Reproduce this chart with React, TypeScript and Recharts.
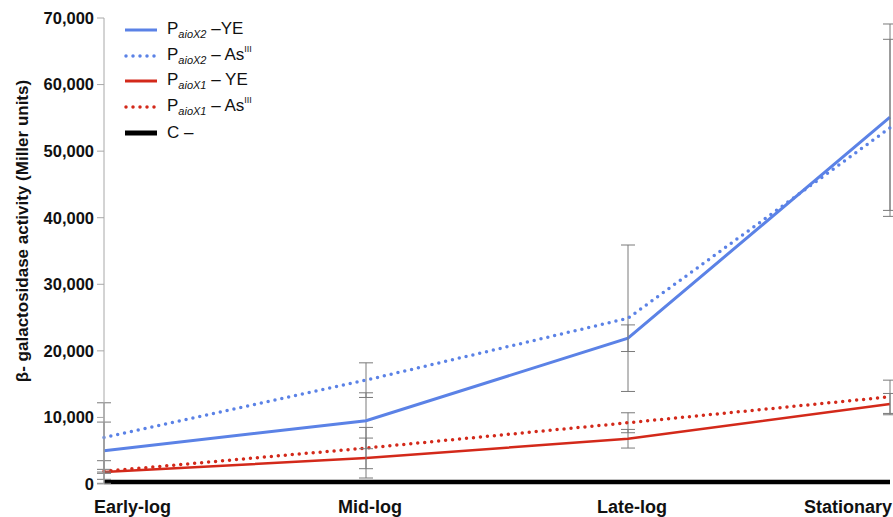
import React from 'react'
import { LineChart, Line, XAxis, YAxis, ErrorBar } from 'recharts'

const phases = ['Early-log', 'Mid-log', 'Late-log', 'Stationary']

const x2Ye = [5000, 9500, 21900, 55100]
const x2YeErr = [4300, 4200, 2000, 14000]
const x2As = [7000, 15600, 24900, 53500]
const x2AsErr = [5200, 2600, 11000, 13300]
const x1Ye = [1800, 3900, 6800, 12000]
const x1YeErr = [1700, 3000, 1400, 1600]
const x1As = [1900, 5400, 9200, 13100]
const x1AsErr = [300, 3100, 1500, 2500]
const control = [300, 300, 300, 300]

const yTicks = [0, 10000, 20000, 30000, 40000, 50000, 60000, 70000]

const BLUE = '#5b82e6'
const RED = '#d3291a'
const GRAY = '#7a7a7a'
const FONT = '"Liberation Sans", Arial, sans-serif'

const data = phases.map((p, i) => ({
  phase: p,
  x2Ye: x2Ye[i],
  x2YeErr: x2YeErr[i],
  x2As: x2As[i],
  x2AsErr: x2AsErr[i],
  x1Ye: x1Ye[i],
  x1YeErr: x1YeErr[i],
  x1As: x1As[i],
  x1AsErr: x1AsErr[i],
  control: control[i],
}))

const legendItems = [
  { color: BLUE, dotted: false, sub: 'aioX2', tail: ' \u2013YE', sup: '' },
  { color: BLUE, dotted: true, sub: 'aioX2', tail: ' \u2013 As', sup: 'III' },
  { color: RED, dotted: false, sub: 'aioX1', tail: ' \u2013 YE', sup: '' },
  { color: RED, dotted: true, sub: 'aioX1', tail: ' \u2013 As', sup: 'III' },
]

// legend drawn over the plot, like the original figure
const LegendBox = () => (
  <div
    style={{
      position: 'absolute',
      left: 123,
      top: 17,
      fontFamily: FONT,
      fontSize: 17,
      color: '#111',
      lineHeight: 1,
    }}
  >
    {legendItems.map((it, i) => (
      <div key={i} style={{ display: 'flex', alignItems: 'center', height: 25.7 }}>
        <svg width={34} height={6} style={{ marginRight: 10 }}>
          <line
            x1={it.dotted ? 3 : 2}
            y1={3}
            x2={34}
            y2={3}
            stroke={it.color}
            strokeWidth={it.dotted ? 3.5 : 3}
            strokeDasharray={it.dotted ? '0 7' : undefined}
            strokeLinecap={it.dotted ? 'round' : 'butt'}
          />
        </svg>
        <span>
          P<sub style={{ fontStyle: 'italic', fontSize: 11, verticalAlign: -4 }}>{it.sub}</sub>
          {it.tail}
          {it.sup && <sup style={{ fontSize: 9, verticalAlign: 8 }}>{it.sup}</sup>}
        </span>
      </div>
    ))}
    <div style={{ display: 'flex', alignItems: 'center', height: 25.7 }}>
      <svg width={34} height={6} style={{ marginRight: 10 }}>
        <line x1={2} y1={3} x2={34} y2={3} stroke="#000" strokeWidth={5} />
      </svg>
      <span>{'C \u2013'}</span>
    </div>
  </div>
)

const XTick = (props: any) => {
  const { x, y, payload, index } = props
  const last = phases.length - 1
  const anchor = index === 0 ? 'start' : index === last ? 'end' : 'middle'
  const dx = index === 0 ? -10 : index === last ? 2 : 4
  return (
    <text
      x={x + dx}
      y={y + 21}
      textAnchor={anchor}
      fontFamily={FONT}
      fontWeight="bold"
      fontSize={18}
      fill="#111"
    >
      {payload.value}
    </text>
  )
}

export default function App() {
  return (
    <div style={{ position: 'absolute', left: 0, top: 0, width: 893, height: 517, background: '#fff' }}>
      <LineChart
        width={893}
        height={517}
        data={data}
        margin={{ top: 18, right: 3, bottom: 3, left: 0 }}
      >
        <XAxis
          dataKey="phase"
          axisLine={false}
          tickLine={false}
          height={30}
          tick={<XTick />}
          interval={0}
        />
        <YAxis
          width={104}
          domain={[0, 70000]}
          ticks={yTicks}
          interval={0}
          tickFormatter={(v: number) => v.toLocaleString('en-US')}
          axisLine={{ stroke: '#a8a8a8' }}
          tickLine={{ stroke: '#a8a8a8' }}
          tickSize={7}
          tickMargin={3}
          tick={{ fontFamily: FONT, fontWeight: 'bold', fontSize: 16.5, fill: '#111' }}
          label={{
            value: '\u03b2- galactosidase activity (Miller units)',
            angle: -90,
            position: 'insideLeft',
            offset: 22,
            dy: -20,
            style: {
              fontFamily: FONT,
              fontWeight: 'bold',
              fontSize: 17,
              fill: '#111',
              textAnchor: 'middle',
            },
          }}
        />
        <Line
          dataKey="control"
          stroke="#000"
          strokeWidth={4.5}
          dot={false}
          isAnimationActive={false}
        />
        <Line
          dataKey="x1Ye"
          stroke={RED}
          strokeWidth={2.5}
          dot={false}
          isAnimationActive={false}
        >
          <ErrorBar dataKey="x1YeErr" width={7} stroke={GRAY} strokeWidth={1} direction="y" isAnimationActive={false} />
        </Line>
        <Line
          dataKey="x1As"
          stroke={RED}
          strokeWidth={3.5}
          strokeDasharray="0 7"
          strokeLinecap="round"
          dot={false}
          isAnimationActive={false}
        >
          <ErrorBar dataKey="x1AsErr" width={7} stroke={GRAY} strokeWidth={1} direction="y" isAnimationActive={false} />
        </Line>
        <Line
          dataKey="x2Ye"
          stroke={BLUE}
          strokeWidth={3}
          dot={false}
          isAnimationActive={false}
        >
          <ErrorBar dataKey="x2YeErr" width={7} stroke={GRAY} strokeWidth={1} direction="y" isAnimationActive={false} />
        </Line>
        <Line
          dataKey="x2As"
          stroke={BLUE}
          strokeWidth={3.5}
          strokeDasharray="0 7"
          strokeLinecap="round"
          dot={false}
          isAnimationActive={false}
        >
          <ErrorBar dataKey="x2AsErr" width={7} stroke={GRAY} strokeWidth={1} direction="y" isAnimationActive={false} />
        </Line>
      </LineChart>
      <LegendBox />
    </div>
  )
}
